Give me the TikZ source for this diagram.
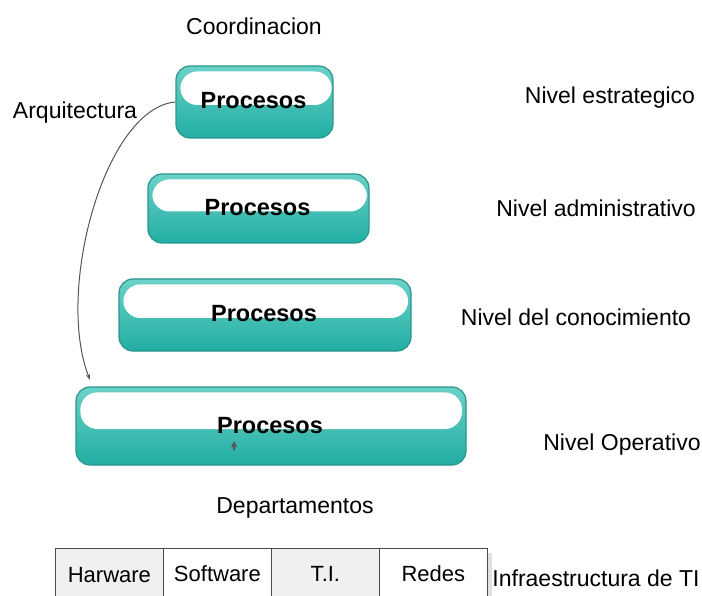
\documentclass[tikz,border=0pt]{standalone}
\usepackage{fontspec}
\setmainfont{Liberation Sans}
\usetikzlibrary{calc,arrows.meta}
\definecolor{tealtop}{HTML}{6BD1C8}
\definecolor{tealbot}{HTML}{22AEA3}
\definecolor{tealedge}{HTML}{2A958D}
\definecolor{cellgray}{HTML}{F0F0F0}
\definecolor{arrowgray}{HTML}{555555}
\tikzset{
  procbox/.style={draw=tealedge, line width=1.2pt, rounded corners=14pt,
    top color=tealtop, bottom color=tealbot, inner sep=0pt},
  proclbl/.style={font=\fontsize{23.5}{28}\selectfont\bfseries, inner sep=0pt},
  gloss/.style={fill=white, rounded corners=17pt},
  lbl/.style={font=\fontsize{23}{27}\selectfont, inner sep=0pt},
  cell/.style={draw=black!70, line width=0.8pt, minimum width=108pt,
    minimum height=52pt, inner sep=0pt, anchor=north west},
  cellfont/.style={font=\fontsize{22}{26}\selectfont},
  archline/.style={draw=arrowgray, line width=1pt,
    -{Stealth[length=6pt,width=4pt]}}
}
\newcommand{\glossy}[1]{%
  \path[gloss] ($(#1.north west)+(5,6)$) rectangle
    ($(#1.west)!0.988!(#1.east)+(0,3)$);}
\begin{document}
\begin{tikzpicture}[x=1pt,y=-1pt]
\useasboundingbox (0,0) rectangle (702,596);
% level boxes
\node[procbox, minimum width=157pt, minimum height=72pt] (b1) at (254.5,102) {};
\node[procbox, minimum width=221pt, minimum height=69pt] (b2) at (258.5,208.5) {};
\node[procbox, minimum width=292pt, minimum height=72pt] (b3) at (265,315) {};
\node[procbox, minimum width=390pt, minimum height=78pt] (b4) at (271,426) {};
\foreach \b in {b1,b2,b3,b4}{\glossy{\b}}
\foreach \b/\dx/\dy in {b1/-1/-1, b2/-1/-0.5, b3/-1/-1, b4/-1/0}{
  \node[proclbl] at ($(\b.center)+(\dx,\dy)$) {Procesos};}
% small marker inside the bottom box
\fill[arrowgray] (234,441) -- (237,447) -- (234.8,447) -- (234.8,450)
  -- (233.2,450) -- (233.2,447) -- (231,447) -- cycle;
% labels
\node[lbl] (coord) at (254,26) {Coordinacion};
\node[lbl] (arq) at (75,113) {Arquitectura};
\node[lbl] (n1) at (610,98) {Nivel estrategico};
\node[lbl] (n2) at (596,208) {Nivel administrativo};
\node[lbl] (n3) at (576,317) {Nivel del conocimiento};
\node[lbl] (n4) at (622,445) {Nivel Operativo};
\node[lbl] (dep) at (295,508) {Departamentos};
\node[lbl] (infra) at (596,578) {Infraestructura de TI};
% architecture connector
\coordinate (archEnd) at (90,380);
\draw[archline] (b1.west) .. controls (105,108) and (55,290) .. (archEnd);
% infrastructure row
\fill[black!12] (488,553) rectangle (492,600);
\node[cell, fill=cellgray] (c1) at (55,548) {};
\node[cell, fill=white] (c2) at (163,548) {};
\node[cell, fill=cellgray] (c3) at (271,548) {};
\node[cell, fill=white] (c4) at (379,548) {};
\node[cellfont] at ($(c1.north)+(0,27)$) {Harware};
\node[cellfont] at ($(c2.north)+(0,26)$) {Software};
\node[cellfont] at ($(c3.north)+(0,26)$) {T.I.};
\node[cellfont] at ($(c4.north)+(0,26)$) {Redes};
\end{tikzpicture}
\end{document}
